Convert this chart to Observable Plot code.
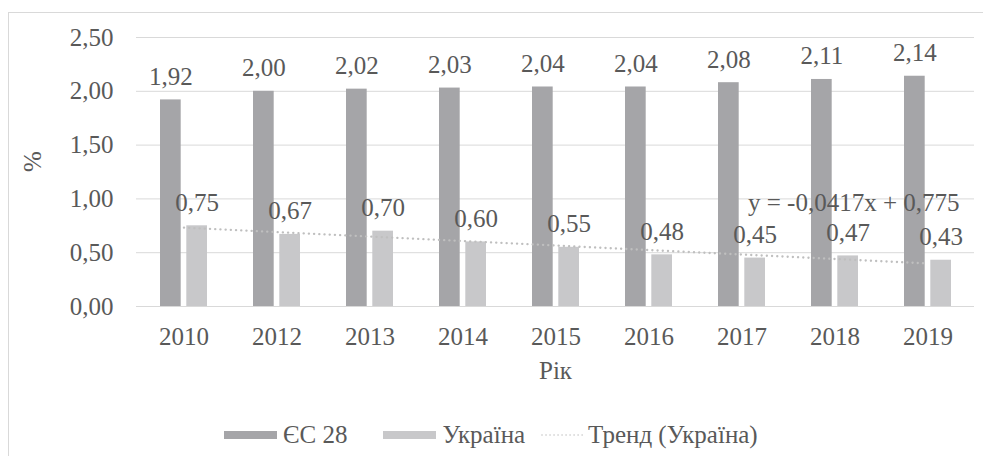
<!DOCTYPE html>
<html>
<head>
<meta charset="utf-8">
<script src="https://cdn.jsdelivr.net/npm/d3@7"></script>
<script src="https://cdn.jsdelivr.net/npm/@observablehq/plot@0.6"></script>
<style>
  html, body { margin: 0; padding: 0; background: #fff; overflow: hidden; width: 983px; height: 456px; }
  #wrap { position: relative; width: 983px; height: 456px; color: #595959; }
  #frame { position: absolute; left: 8px; top: 12px; width: 1400px; height: 1400px; border: 1px solid #d9d9d9; box-sizing: border-box; pointer-events: none; }
  #chart { position: absolute; left: 0; top: 0; }
  #legend { position: absolute; left: 224px; top: 420px; height: 30px; display: flex; align-items: center; font-size: 25px; line-height: 30px; white-space: nowrap; }
  .sw { display: inline-block; width: 53px; height: 8px; margin-right: 6px; }
  .item { display: flex; align-items: center; }
</style>
</head>
<body>
<div id="wrap" style="font-family:'Liberation Serif'">
  <div id="frame"></div>
  <div id="chart"></div>
  <div id="legend" style="font-family:'Liberation Serif'"></div>
</div>
<script>
// ---- data ----
const years = ["2010", "2012", "2013", "2014", "2015", "2016", "2017", "2018", "2019"];
const euValues = [1.92, 2.00, 2.02, 2.03, 2.04, 2.04, 2.08, 2.11, 2.14];
const uaValues = [0.75, 0.67, 0.70, 0.60, 0.55, 0.48, 0.45, 0.47, 0.43];
const yTicks = [0, 0.5, 1.0, 1.5, 2.0, 2.5];
const trendYears = ["2010", "2019"];
const trendValues = [0.733, 0.400];
const trendLabel = "y = -0,0417x + 0,775";
const seriesNames = ["ЄС 28", "Україна", "Тренд (Україна)"];
const yTitle = "%";
const xTitle = "Рік";

// ---- tables ----
const eu = years.map((year, i) => ({year, value: euValues[i]}));
const ua = years.map((year, i) => ({year, value: uaValues[i]}));
const trend = trendYears.map((year, i) => ({year, value: trendValues[i]}));

const fmt = d3.formatLocale({decimal: ",", thousands: "\u00a0", grouping: [3], currency: ["", ""]}).format(".2f");

const euColor = "#a5a5a8";
const uaColor = "#c8c8ca";
const trendColor = "#bfbfbf";
const textColor = "#595959";
const ff = "Liberation Serif";

const chart = Plot.plot({
  width: 983,
  height: 395,
  marginTop: 37,
  marginBottom: 89,
  marginLeft: 136,
  marginRight: 9,
  style: {fontFamily: ff, fontSize: "25px", color: textColor, background: "transparent"},
  x: {type: "band", domain: years, padding: 0},
  y: {domain: [0, 2.5]},
  marks: [
    Plot.gridY(yTicks, {stroke: "#d9d9d9", strokeOpacity: 1, strokeWidth: 1}),
    Plot.axisY(yTicks, {tickFormat: fmt, tickSize: 0, tickPadding: 23, label: null, fontFamily: ff, fontSize: 25, fill: textColor}),
    Plot.axisX({tickSize: 0, tickPadding: 21, label: null, fontFamily: ff, fontSize: 25, fill: textColor}),
    Plot.barY(eu, {x: "year", y: "value", fill: euColor, insetLeft: 23, insetRight: 49.3}),
    Plot.barY(ua, {x: "year", y: "value", fill: uaColor, insetLeft: 49.3, insetRight: 23}),
    Plot.line(trend, {x: "year", y: "value", stroke: trendColor, strokeWidth: 2.4, strokeDasharray: "0.01 5.2", strokeLinecap: "round"}),
    Plot.text(eu, {x: "year", y: "value", text: d => fmt(d.value), dx: -13.15, dy: -15, lineAnchor: "bottom", fontFamily: ff, fontSize: 25, fill: textColor}),
    Plot.text(ua, {x: "year", y: "value", text: d => fmt(d.value), dx: 13.15, dy: -15, lineAnchor: "bottom", fontFamily: ff, fontSize: 25, fill: textColor}),
    Plot.text([trendLabel], {text: d => d, frameAnchor: "top-right", textAnchor: "end", lineAnchor: "bottom", dx: -15, dy: 173, fontFamily: ff, fontSize: 25, fill: textColor}),
    Plot.text([yTitle], {text: d => d, frameAnchor: "left", rotate: -90, lineAnchor: "middle", dx: -103.5, fontFamily: ff, fontSize: 25, fill: textColor}),
    Plot.text([xTitle], {text: d => d, frameAnchor: "bottom", lineAnchor: "middle", dy: 64, fontFamily: ff, fontSize: 25, fill: textColor})
  ]
});
document.getElementById("chart").appendChild(chart);

// ---- legend ----
const legend = document.getElementById("legend");
const colors = [euColor, uaColor];
seriesNames.forEach((name, i) => {
  const item = document.createElement("div");
  item.className = "item";
  if (i === 1) item.style.marginLeft = "36px";
  if (i === 2) item.style.marginLeft = "13px";
  if (i < 2) {
    const sw = document.createElement("span");
    sw.className = "sw";
    sw.style.background = colors[i];
    item.appendChild(sw);
  } else {
    const ns = "http://www.w3.org/2000/svg";
    const svg = document.createElementNS(ns, "svg");
    svg.setAttribute("width", "49");
    svg.setAttribute("height", "10");
    svg.style.marginRight = "1px";
    const ln = document.createElementNS(ns, "line");
    ln.setAttribute("x1", "4"); ln.setAttribute("x2", "46");
    ln.setAttribute("y1", "5"); ln.setAttribute("y2", "5");
    ln.setAttribute("stroke", trendColor);
    ln.setAttribute("stroke-width", "1.5");
    ln.setAttribute("stroke-dasharray", "0.01 4");
    ln.setAttribute("stroke-linecap", "round");
    svg.appendChild(ln);
    item.appendChild(svg);
  }
  const t = document.createElement("span");
  t.textContent = name;
  t.style.fontFamily = ff;
  item.appendChild(t);
  legend.appendChild(item);
});
</script>
</body>
</html>
